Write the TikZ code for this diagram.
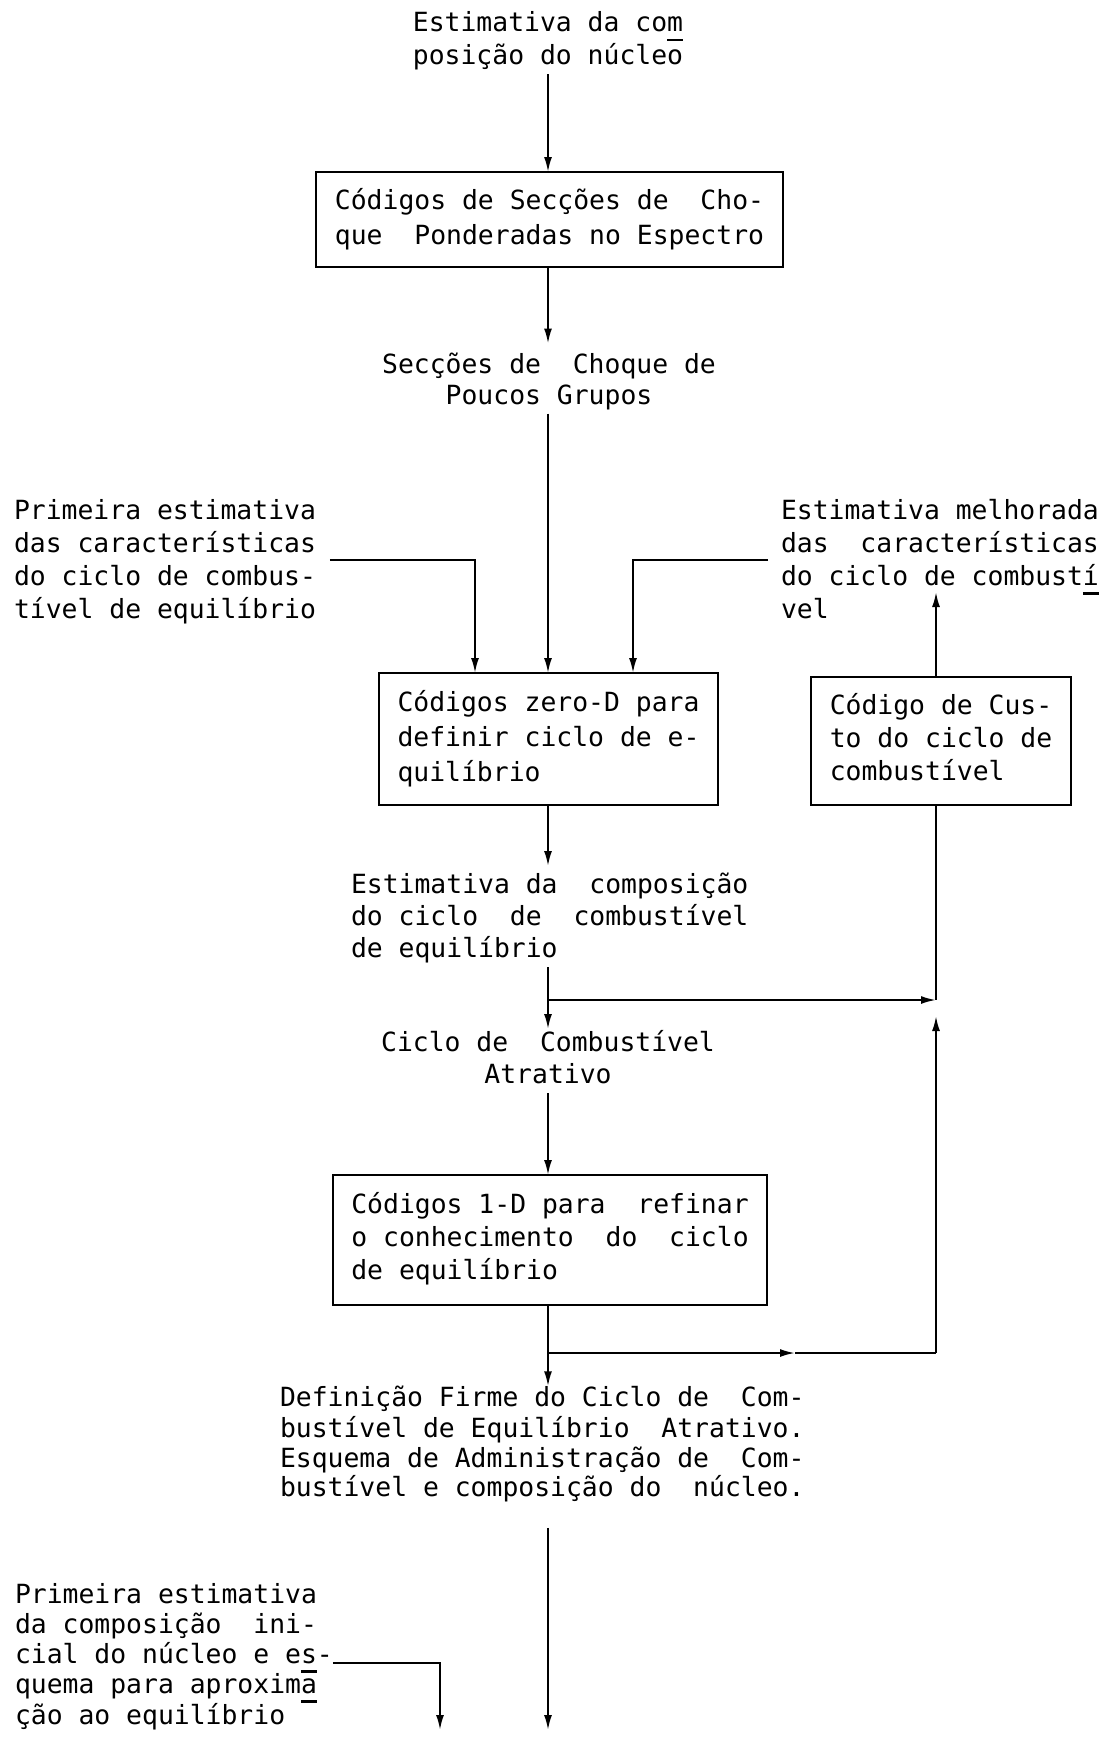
\documentclass[tikz,border=0pt]{standalone}
\usepackage{fontspec}
\newfontfamily\tw{DejaVu Sans Mono}
\usetikzlibrary{arrows.meta}
% typewriter-style hyphenation mark: a bar under the last letter
\newcommand\usc[1]{\makebox[0pt][l]{\rule[-0.36em]{0.6em}{0.09em}}#1}
\begin{document}
\frenchspacing
\begin{tikzpicture}[x=1pt,y=-1pt,
  every node/.style={inner sep=0pt, outer sep=0pt},
  txt/.style={font=\tw\fontsize{26.4}{#1}\selectfont, align=left},
  txt/.default=33,
  codebox/.style={draw, line width=2.2pt},
  link/.style={line width=2pt},
  arr/.style={link, -{Latex[length=15pt,width=8pt]}},
]
\useasboundingbox (0,0) rectangle (1107,1745);

% guide coordinates: main axis, right-hand return line, junctions, free ends
\coordinate (ax) at (548,0);
\coordinate (rx) at (936,0);
\coordinate (lc) at (475,560);
\coordinate (rc) at (633,560);
\coordinate (j1) at (548,1000);
\coordinate (j2) at (548,1353);
\coordinate (upend) at (936,592);
\coordinate (mid2) at (795,1353);
\coordinate (e1) at (548,1730);
\coordinate (lc2) at (440,1663);
\coordinate (e2) at (440,1730);

% texts and boxes
\node[txt] (t1) at (548,41.5)
  {\strut Estimativa da co\usc{m}\\posição do núcleo\strut};
\node[txt=35, codebox, minimum width=467pt, minimum height=95pt] (b1) at (549.5,219.5)
  {\strut Códigos de Secções de~ Cho-\\que~ Ponderadas no Espectro\strut};
\node[txt=31, align=center] (t2) at (549,382.5)
  {\strut Secções de~ Choque de\\Poucos Grupos\strut};
\node[txt, anchor=west] (tl) at (14,562)
  {\strut Primeira estimativa\\das características\\do ciclo de combus-\\tível de equilíbrio\strut};
\node[txt, anchor=west] (tr) at (781,562)
  {\strut Estimativa melhorada\\das~ características\\do ciclo de combust\usc{í}\\vel\strut};
\node[txt=35, codebox, minimum width=339pt, minimum height=132pt] (b2) at (548.5,739)
  {\strut Códigos zero-D para\\definir ciclo de e-\\quilíbrio\strut};
\node[txt, codebox, minimum width=260pt, minimum height=128pt] (b3) at (941,741)
  {\strut Código de Cus-\\to do ciclo de\\combustível\strut};
\node[txt=32, anchor=west] (t3) at (351,919)
  {\strut Estimativa da~ composição\\do ciclo~ de~ combustível\\de equilíbrio\strut};
\node[txt=32, align=center] (t4) at (548,1061)
  {\strut Ciclo de~ Combustível\\Atrativo\strut};
\node[txt, codebox, minimum width=434pt, minimum height=130pt] (b4) at (550,1240)
  {\strut Códigos 1-D para~ refinar\\o conhecimento~ do~ ciclo\\de equilíbrio\strut};
\node[txt=29.5, anchor=west] (t5) at (280,1446)
  {\strut Definição Firme do Ciclo de~ Com-\\bustível de Equilíbrio~ Atrativo.\\Esquema de Administração de~ Com-\\bustível e composição do~ núcleo.\strut};
\node[txt=30, anchor=west] (tb) at (15,1658)
  {\strut Primeira estimativa\\da composição~ ini-\\cial do núcleo e e\usc{s}-\\quema para aproxim\usc{a}\\ção ao equilíbrio\strut};

% main flow
\draw[arr] (t1.south -| ax) -- (b1.north -| ax);
\draw[arr, shorten >=8pt] (b1.south -| ax) -- (t2.north -| ax);
\draw[arr] (t2.south -| ax) -- (b2.north -| ax);
\draw[arr, shorten <=14pt] (tl.east |- lc) -- (lc) -- (lc |- b2.north);
\draw[arr, shorten <=13pt] (tr.west |- rc) -- (rc) -- (rc |- b2.north);
\draw[arr, shorten >=5pt] (b2.south -| ax) -- (t3.north -| ax);
\draw[arr] (t3.south -| ax) -- (t4.north -| ax);
\draw[arr] (t4.south -| ax) -- (b4.north -| ax);
\draw[arr] (b4.south -| ax) -- (t5.north -| ax);
\draw[arr, shorten <=22pt] (t5.south -| ax) -- (e1);
\draw[arr] (tb.east |- lc2) -- (lc2) -- (e2);

% loop to the cost code and its output
\draw[arr] (j1) -- (j1 -| rx);
\draw[link] (b3.south -| rx) -- (j1 -| rx);
\draw[arr, shorten >=16pt] (j2 -| rx) -- (j1 -| rx);
\draw[arr] (j2) -- (mid2);
\draw[link] (mid2) -- (j2 -| rx);
\draw[arr] (b3.north -| rx) -- (upend);
\end{tikzpicture}
\end{document}
